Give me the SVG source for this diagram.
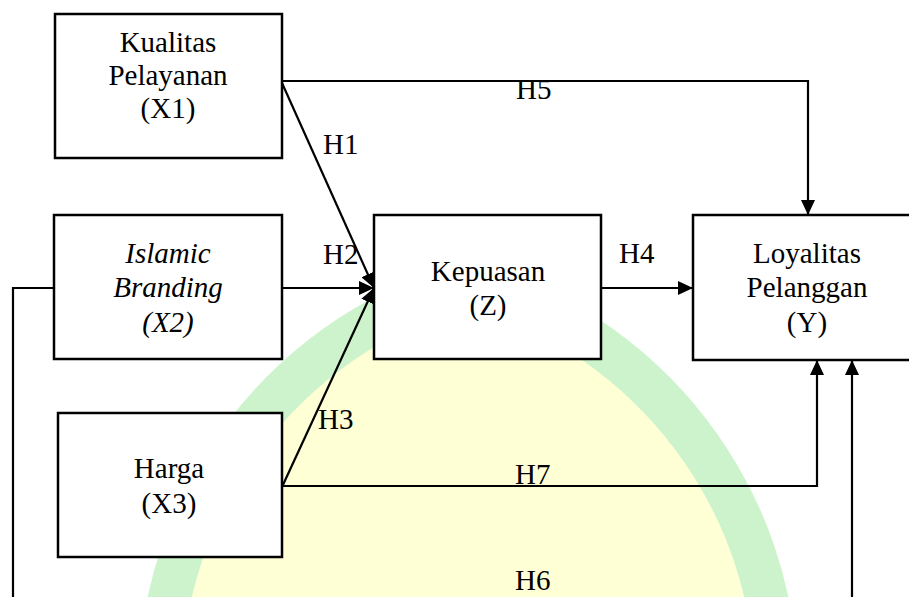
<svg xmlns="http://www.w3.org/2000/svg" width="909" height="597" viewBox="0 0 909 597">
  <style>
    .box { fill: #ffffff; stroke: #000000; stroke-width: 2.5; }
    .edge { fill: none; stroke: #000000; stroke-width: 2.2; }
  </style>
  <defs>
    <marker id="arrow" markerUnits="userSpaceOnUse" markerWidth="15" markerHeight="14" refX="15" refY="7" orient="auto">
      <path d="M0,0 L15,7 L0,14 z" fill="#000000"/>
    </marker>
  </defs>

  <rect width="909" height="597" fill="#ffffff"/>

  <g id="watermark">
    <path d="M468,261 A442,442 0 0 0 138,689 L798,689 A442,442 0 0 0 468,261 z" fill="#cdf3cd"/>
    <path d="M468,306 A399,399 0 0 0 181,689 L755,689 A399,399 0 0 0 468,306 z" fill="#ffffd6"/>
  </g>

  <g id="connectors">
    <polyline id="e-h5" class="edge" points="282,81 808,81 808,215" marker-end="url(#arrow)"/>
    <line id="e-h1" class="edge" x1="282" y1="83" x2="374" y2="288" marker-end="url(#arrow)"/>
    <line id="e-h2" class="edge" x1="282" y1="288" x2="374" y2="288" marker-end="url(#arrow)"/>
    <line id="e-h3" class="edge" x1="282" y1="487" x2="374" y2="288" marker-end="url(#arrow)"/>
    <line id="e-h4" class="edge" x1="601" y1="288" x2="693" y2="288" marker-end="url(#arrow)"/>
    <polyline id="e-h7" class="edge" points="282,486 817,486 817,360" marker-end="url(#arrow)"/>
    <polyline id="e-h6" class="edge" points="54,288 13,288 13,597"/>
    <line id="e-h6b" class="edge" x1="852" y1="597" x2="852" y2="360" marker-end="url(#arrow)"/>
  </g>

  <g font-family="Liberation Serif, Times New Roman, DejaVu Serif, serif" font-size="29" fill="#000000">
    <g id="node-x1" text-anchor="middle">
      <rect class="box" x="55" y="14" width="227" height="144"/>
      <text x="168" y="52">Kualitas</text>
      <text x="168" y="85">Pelayanan</text>
      <text x="168" y="118">(X1)</text>
    </g>

    <g id="node-x2" text-anchor="middle" font-style="italic">
      <rect class="box" x="54" y="215" width="228" height="144"/>
      <text x="168" y="263">Islamic</text>
      <text x="168" y="297">Branding</text>
      <text x="168" y="332">(X2)</text>
    </g>

    <g id="node-x3" text-anchor="middle">
      <rect class="box" x="58" y="413" width="224" height="144"/>
      <text x="169" y="478">Harga</text>
      <text x="169" y="513">(X3)</text>
    </g>

    <g id="node-z" text-anchor="middle">
      <rect class="box" x="374" y="215" width="227" height="144"/>
      <text x="488" y="281">Kepuasan</text>
      <text x="488" y="315">(Z)</text>
    </g>

    <g id="node-y" text-anchor="middle">
      <rect class="box" x="693" y="215" width="229" height="145"/>
      <text x="807" y="263">Loyalitas</text>
      <text x="807" y="297">Pelanggan</text>
      <text x="807" y="332">(Y)</text>
    </g>

    <g id="labels">
      <text x="323" y="154">H1</text>
      <text x="323" y="264">H2</text>
      <text x="318" y="429">H3</text>
      <text x="619" y="263">H4</text>
      <text x="516" y="99">H5</text>
      <text x="515" y="590">H6</text>
      <text x="515" y="484">H7</text>
    </g>
  </g>
</svg>
